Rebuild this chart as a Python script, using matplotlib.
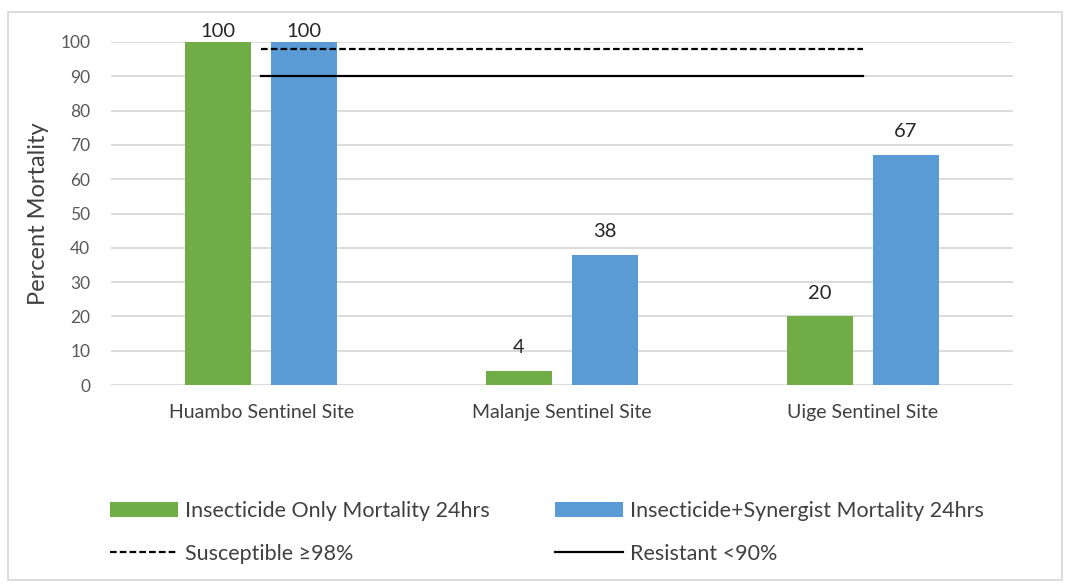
import numpy as np
import matplotlib.pyplot as plt
from matplotlib.patches import Rectangle

sites = ["Huambo Sentinel Site", "Malanje Sentinel Site", "Uige Sentinel Site"]
insecticide_only = [100, 4, 20]
insecticide_synergist = [100, 38, 67]
susceptible = [98, 98, 98]
resistant = [90, 90, 90]

plt.rcParams["font.family"] = ["Lato", "DejaVu Sans"]

fig = plt.figure(figsize=(10.7, 5.84), dpi=100)
ax = fig.add_axes([111 / 1070, 1 - 385 / 584, 902 / 1070, 343 / 584])

x = np.arange(len(sites))
w = 0.22
off = 0.143
b1 = ax.bar(x - off, insecticide_only, w, color="#70ad47", zorder=3,
            label="Insecticide Only Mortality 24hrs")
b2 = ax.bar(x + off, insecticide_synergist, w, color="#5b9bd5", zorder=3,
            label="Insecticide+Synergist Mortality 24hrs")
l1, = ax.plot(x, susceptible, color="black", ls=(0, (3, 1.4)), lw=1.6, zorder=4,
              label="Susceptible \u226598%")
l2, = ax.plot(x, resistant, color="black", lw=1.6, zorder=4, label="Resistant <90%")

# value labels above bars (kept inside the plot area at the top)
for bars in (b1, b2):
    for r in bars:
        v = r.get_height()
        pad = 1.5 if v >= 100 else 5.2
        ax.text(r.get_x() + r.get_width() / 2, v + pad, f"{v:g}", ha="center",
                va="baseline", fontsize=14.5, color="#262626", clip_on=False)

ax.set_xlim(-0.5, 2.5)
ax.set_ylim(0, 100)
ax.set_yticks(range(0, 101, 10))
ax.set_xticks(x)
ax.set_xticklabels(sites, fontsize=14, color="#404040")
ax.tick_params(axis="y", labelsize=12.5, labelcolor="#595959", length=0, pad=15)
ax.tick_params(axis="x", length=0, pad=14)
ax.grid(axis="y", color="#d9d9d9", lw=1.3, zorder=0)
for s in ax.spines.values():
    s.set_visible(False)
ax.set_ylabel("Percent Mortality", fontsize=17, color="#404040", labelpad=8)

fig.patches.append(Rectangle((8 / 1070, 4 / 584), 1054 / 1070, 568 / 584,
                             transform=fig.transFigure, fill=False,
                             edgecolor="#d9d9d9", lw=1.3))

leg_kw = dict(frameon=False, fontsize=15.5, handlelength=3.15, handletextpad=0.35,
              labelspacing=1.05, borderaxespad=0, borderpad=0, labelcolor="#404040")
lg1 = fig.legend([b1, l1], [b1.get_label(), l1.get_label()], loc="upper left",
                 bbox_to_anchor=(110 / 1070, 1 - 501 / 584), **leg_kw)
lg2 = fig.legend([b2, l2], [b2.get_label(), l2.get_label()], loc="upper left",
                 bbox_to_anchor=(555 / 1070, 1 - 501 / 584), **leg_kw)

fig.savefig("out.png", dpi=100)
